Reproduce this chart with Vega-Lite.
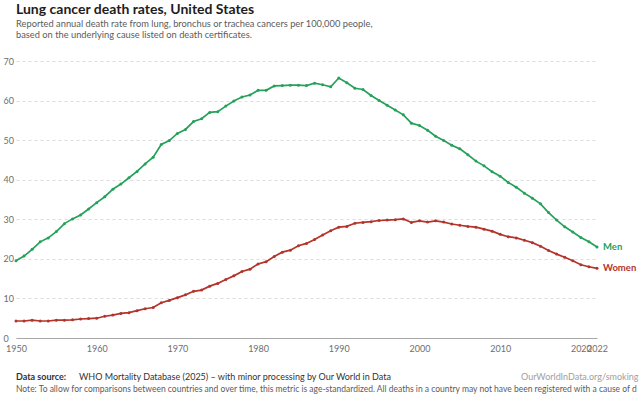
{
  "$schema": "https://vega.github.io/schema/vega-lite/v6.json",
  "width": 581,
  "height": 277,
  "autosize": "none",
  "padding": {"left": 16, "top": 61, "right": 43, "bottom": 62},
  "background": "white",
  "config": {
    "font": "Lato",
    "view": {"stroke": null},
    "axisX": {
      "grid": false, "domain": true, "domainColor": "#a8a8a8", "ticks": false, "tickSize": 0,
      "labelPadding": 6, "labelFontSize": 9, "labelColor": "#6e6e6e", "labelFont": "Lato", "labelOverlap": false, "labelFlush": false
    },
    "axisY": {
      "grid": true, "gridColor": "#dddddd", "gridDash": [3, 3], "gridWidth": 1, "domain": false, "ticks": false, "tickSize": 0,
      "labelAlign": "left", "labelBaseline": "middle", "labelPadding": 13, "labelFontSize": 9, "labelColor": "#6e6e6e", "labelFont": "Lato", "labelOverlap": false, "labelFlush": false
    }
  },
  "title": {
    "text": "Lung cancer death rates, United States",
    "subtitle": ["Reported annual death rate from lung, bronchus or trachea cancers per 100,000 people,", "based on the underlying cause listed on death certificates."],
    "anchor": "start",
    "frame": "group",
    "offset": 17,
    "font": "Lato",
    "fontSize": 14,
    "fontWeight": "bold",
    "color": "#1d1d1d",
    "subtitleFont": "Lato",
    "subtitleFontSize": 9.3,
    "subtitleColor": "#5b5b5b",
    "subtitlePadding": 3,
    "subtitleLineHeight": 10.5
  },
  "datasets": {
    "rates": [
      {"year":1950,"sex":"Men","rate":19.5},{"year":1951,"sex":"Men","rate":20.7},{"year":1952,"sex":"Men","rate":22.4},{"year":1953,"sex":"Men","rate":24.3},{"year":1954,"sex":"Men","rate":25.3},
      {"year":1955,"sex":"Men","rate":26.9},{"year":1956,"sex":"Men","rate":28.9},{"year":1957,"sex":"Men","rate":30.1},{"year":1958,"sex":"Men","rate":31.1},{"year":1959,"sex":"Men","rate":32.6},
      {"year":1960,"sex":"Men","rate":34.2},{"year":1961,"sex":"Men","rate":35.7},{"year":1962,"sex":"Men","rate":37.6},{"year":1963,"sex":"Men","rate":38.9},{"year":1964,"sex":"Men","rate":40.5},
      {"year":1965,"sex":"Men","rate":42.1},{"year":1966,"sex":"Men","rate":44.0},{"year":1967,"sex":"Men","rate":45.7},{"year":1968,"sex":"Men","rate":48.9},{"year":1969,"sex":"Men","rate":49.9},
      {"year":1970,"sex":"Men","rate":51.7},{"year":1971,"sex":"Men","rate":52.7},{"year":1972,"sex":"Men","rate":54.7},{"year":1973,"sex":"Men","rate":55.4},{"year":1974,"sex":"Men","rate":57.0},
      {"year":1975,"sex":"Men","rate":57.2},{"year":1976,"sex":"Men","rate":58.6},{"year":1977,"sex":"Men","rate":59.9},{"year":1978,"sex":"Men","rate":60.9},{"year":1979,"sex":"Men","rate":61.4},
      {"year":1980,"sex":"Men","rate":62.6},{"year":1981,"sex":"Men","rate":62.6},{"year":1982,"sex":"Men","rate":63.7},{"year":1983,"sex":"Men","rate":63.8},{"year":1984,"sex":"Men","rate":63.9},
      {"year":1985,"sex":"Men","rate":63.9},{"year":1986,"sex":"Men","rate":63.8},{"year":1987,"sex":"Men","rate":64.4},{"year":1988,"sex":"Men","rate":64.0},{"year":1989,"sex":"Men","rate":63.5},
      {"year":1990,"sex":"Men","rate":65.7},{"year":1991,"sex":"Men","rate":64.5},{"year":1992,"sex":"Men","rate":63.1},{"year":1993,"sex":"Men","rate":62.8},{"year":1994,"sex":"Men","rate":61.3},
      {"year":1995,"sex":"Men","rate":60.0},{"year":1996,"sex":"Men","rate":58.8},{"year":1997,"sex":"Men","rate":57.6},{"year":1998,"sex":"Men","rate":56.4},{"year":1999,"sex":"Men","rate":54.3},
      {"year":2000,"sex":"Men","rate":53.7},{"year":2001,"sex":"Men","rate":52.5},{"year":2002,"sex":"Men","rate":51.0},{"year":2003,"sex":"Men","rate":49.9},{"year":2004,"sex":"Men","rate":48.7},
      {"year":2005,"sex":"Men","rate":47.8},{"year":2006,"sex":"Men","rate":46.3},{"year":2007,"sex":"Men","rate":44.7},{"year":2008,"sex":"Men","rate":43.5},{"year":2009,"sex":"Men","rate":42.0},
      {"year":2010,"sex":"Men","rate":40.9},{"year":2011,"sex":"Men","rate":39.3},{"year":2012,"sex":"Men","rate":38.1},{"year":2013,"sex":"Men","rate":36.6},{"year":2014,"sex":"Men","rate":35.3},
      {"year":2015,"sex":"Men","rate":33.9},{"year":2016,"sex":"Men","rate":31.7},{"year":2017,"sex":"Men","rate":29.8},{"year":2018,"sex":"Men","rate":28.1},{"year":2019,"sex":"Men","rate":26.8},
      {"year":2020,"sex":"Men","rate":25.4},{"year":2021,"sex":"Men","rate":24.3},{"year":2022,"sex":"Men","rate":23.0},
      {"year":1950,"sex":"Women","rate":4.3},{"year":1951,"sex":"Women","rate":4.3},{"year":1952,"sex":"Women","rate":4.5},{"year":1953,"sex":"Women","rate":4.3},{"year":1954,"sex":"Women","rate":4.3},
      {"year":1955,"sex":"Women","rate":4.5},{"year":1956,"sex":"Women","rate":4.5},{"year":1957,"sex":"Women","rate":4.6},{"year":1958,"sex":"Women","rate":4.8},{"year":1959,"sex":"Women","rate":4.9},
      {"year":1960,"sex":"Women","rate":5.0},{"year":1961,"sex":"Women","rate":5.5},{"year":1962,"sex":"Women","rate":5.8},{"year":1963,"sex":"Women","rate":6.2},{"year":1964,"sex":"Women","rate":6.4},
      {"year":1965,"sex":"Women","rate":6.9},{"year":1966,"sex":"Women","rate":7.4},{"year":1967,"sex":"Women","rate":7.7},{"year":1968,"sex":"Women","rate":8.9},{"year":1969,"sex":"Women","rate":9.5},
      {"year":1970,"sex":"Women","rate":10.2},{"year":1971,"sex":"Women","rate":10.9},{"year":1972,"sex":"Women","rate":11.8},{"year":1973,"sex":"Women","rate":12.1},{"year":1974,"sex":"Women","rate":13.1},
      {"year":1975,"sex":"Women","rate":13.8},{"year":1976,"sex":"Women","rate":14.8},{"year":1977,"sex":"Women","rate":15.7},{"year":1978,"sex":"Women","rate":16.8},{"year":1979,"sex":"Women","rate":17.4},
      {"year":1980,"sex":"Women","rate":18.7},{"year":1981,"sex":"Women","rate":19.3},{"year":1982,"sex":"Women","rate":20.6},{"year":1983,"sex":"Women","rate":21.7},{"year":1984,"sex":"Women","rate":22.2},
      {"year":1985,"sex":"Women","rate":23.3},{"year":1986,"sex":"Women","rate":23.9},{"year":1987,"sex":"Women","rate":24.9},{"year":1988,"sex":"Women","rate":26.0},{"year":1989,"sex":"Women","rate":27.1},
      {"year":1990,"sex":"Women","rate":28.0},{"year":1991,"sex":"Women","rate":28.2},{"year":1992,"sex":"Women","rate":29.0},{"year":1993,"sex":"Women","rate":29.2},{"year":1994,"sex":"Women","rate":29.4},
      {"year":1995,"sex":"Women","rate":29.7},{"year":1996,"sex":"Women","rate":29.8},{"year":1997,"sex":"Women","rate":29.9},{"year":1998,"sex":"Women","rate":30.1},{"year":1999,"sex":"Women","rate":29.2},
      {"year":2000,"sex":"Women","rate":29.6},{"year":2001,"sex":"Women","rate":29.3},{"year":2002,"sex":"Women","rate":29.6},{"year":2003,"sex":"Women","rate":29.3},{"year":2004,"sex":"Women","rate":28.8},
      {"year":2005,"sex":"Women","rate":28.5},{"year":2006,"sex":"Women","rate":28.2},{"year":2007,"sex":"Women","rate":28.0},{"year":2008,"sex":"Women","rate":27.5},{"year":2009,"sex":"Women","rate":27.0},
      {"year":2010,"sex":"Women","rate":26.2},{"year":2011,"sex":"Women","rate":25.6},{"year":2012,"sex":"Women","rate":25.3},{"year":2013,"sex":"Women","rate":24.7},{"year":2014,"sex":"Women","rate":24.1},
      {"year":2015,"sex":"Women","rate":23.2},{"year":2016,"sex":"Women","rate":22.1},{"year":2017,"sex":"Women","rate":21.2},{"year":2018,"sex":"Women","rate":20.4},{"year":2019,"sex":"Women","rate":19.5},
      {"year":2020,"sex":"Women","rate":18.5},{"year":2021,"sex":"Women","rate":18.0},{"year":2022,"sex":"Women","rate":17.6}
    ],
    "footer": [{"k": 1}]
  },
  "layer": [
    {
      "data": {"name": "rates"},
      "mark": {"type": "line", "strokeWidth": 1.7, "point": {"filled": true, "size": 9}},
      "encoding": {
        "x": {
          "field": "year", "type": "quantitative",
          "scale": {"domain": [1950, 2022], "nice": false, "zero": false},
          "axis": {"title": null, "values": [1950, 1960, 1970, 1980, 1990, 2000, 2010, 2020, 2022], "format": "d"}
        },
        "y": {
          "field": "rate", "type": "quantitative",
          "scale": {"domain": [0, 70], "nice": false},
          "axis": {"title": null, "values": [0, 10, 20, 30, 40, 50, 60, 70], "tickCount": 8}
        },
        "color": {
          "field": "sex", "type": "nominal",
          "scale": {"domain": ["Men", "Women"], "range": ["#25a15a", "#b3342b"]},
          "legend": null
        }
      }
    },
    {
      "data": {"name": "rates"},
      "transform": [{"filter": "datum.year == 2022"}],
      "mark": {"type": "text", "align": "left", "baseline": "middle", "dx": 6, "fontSize": 9.5, "fontWeight": "bold", "font": "Lato"},
      "encoding": {
        "x": {"field": "year", "type": "quantitative", "axis": {"title": null, "values": [1950, 1960, 1970, 1980, 1990, 2000, 2010, 2020, 2022], "format": "d"}},
        "y": {"field": "rate", "type": "quantitative", "axis": {"title": null, "values": [0, 10, 20, 30, 40, 50, 60, 70], "tickCount": 8}},
        "text": {"field": "sex"},
        "color": {"field": "sex", "type": "nominal", "legend": null}
      }
    },
    {
      "data": {"name": "footer"},
      "mark": {"type": "text", "text": "Data source:", "align": "left", "baseline": "alphabetic", "fontSize": 9, "fontWeight": "bold", "color": "#333333", "font": "Lato"},
      "encoding": {"x": {"value": 0}, "y": {"value": 319}}
    },
    {
      "data": {"name": "footer"},
      "mark": {"type": "text", "text": "WHO Mortality Database (2025) – with minor processing by Our World in Data", "align": "left", "baseline": "alphabetic", "fontSize": 9, "color": "#333333", "font": "Lato"},
      "encoding": {"x": {"value": 63}, "y": {"value": 319}}
    },
    {
      "data": {"name": "footer"},
      "mark": {"type": "text", "text": "OurWorldInData.org/smoking | CC BY", "align": "left", "baseline": "alphabetic", "fontSize": 9, "color": "#a0a0a0", "font": "Lato", "limit": 118, "ellipsis": "\u200b"},
      "encoding": {"x": {"value": 505}, "y": {"value": 319}}
    },
    {
      "data": {"name": "footer"},
      "mark": {"type": "text", "text": "Note: To allow for comparisons between countries and over time, this metric is age-standardized. All deaths in a country may not have been registered with a cause of death.", "align": "left", "baseline": "alphabetic", "fontSize": 8.5, "color": "#5b5b5b", "font": "Lato", "limit": 623, "ellipsis": "\u200b"},
      "encoding": {"x": {"value": 0}, "y": {"value": 331}}
    }
  ]
}
